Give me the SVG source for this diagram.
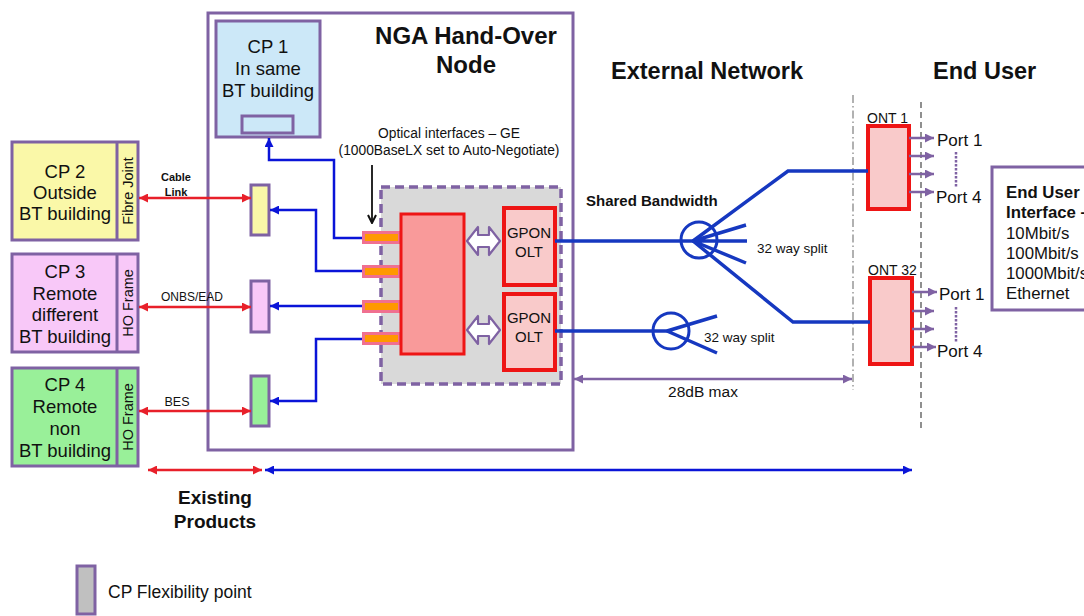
<svg xmlns="http://www.w3.org/2000/svg" width="1084" height="616" viewBox="0 0 1084 616">
<style>
text{font-family:"Liberation Sans",Arial,sans-serif;fill:#111}
.pbox{stroke:#7F62A3;stroke-width:3}
.cpt{font-size:18.5px;text-anchor:middle}
.vt{font-size:14.5px;text-anchor:middle}
.small{font-size:12px;text-anchor:middle}
.red{stroke:#E8202A;stroke-width:2.5;fill:none}
.blue{stroke:#0A14D8;stroke-width:2.5;fill:none}
.fibre{stroke:#1638C0;stroke-width:3.5;fill:none}
.purp{stroke:#7F62A3;stroke-width:2.5;fill:none}
.olt{fill:#F9CACA;stroke:#EE1515;stroke-width:4}
.port{fill:#F07090}
.porti{fill:#FF9900}
.h1{font-size:24px;font-weight:bold;text-anchor:middle}
.h2{font-size:23.5px;font-weight:bold}
.gt{font-size:15px;text-anchor:middle}
.pt{font-size:17px}
.eu{font-size:16.8px}
</style>
<defs>
<marker id="aR" viewBox="0 0 10 10" refX="10" refY="5" markerWidth="10" markerHeight="9" markerUnits="userSpaceOnUse" orient="auto-start-reverse"><path d="M0,0 L10,5 L0,10 z" fill="#E8202A"/></marker>
<marker id="aB" viewBox="0 0 10 10" refX="10" refY="5" markerWidth="9" markerHeight="9" markerUnits="userSpaceOnUse" orient="auto-start-reverse"><path d="M0,0 L10,5 L0,10 z" fill="#0A14D8"/></marker>
<marker id="aP" viewBox="0 0 10 10" refX="10" refY="5" markerWidth="9" markerHeight="9" markerUnits="userSpaceOnUse" orient="auto-start-reverse"><path d="M0,0 L10,5 L0,10 z" fill="#7F62A3"/></marker>
<marker id="aK" viewBox="0 0 10 10" refX="9" refY="5" markerWidth="10" markerHeight="10" markerUnits="userSpaceOnUse" orient="auto"><path d="M1,1 L9,5 L1,9" fill="none" stroke="#111" stroke-width="2"/></marker>
</defs>
<rect width="1084" height="616" fill="#fff"/>

<g id="nga-node">
<rect x="208" y="13" width="365" height="437" fill="#fff" class="pbox"/>
<text class="h1" x="466" y="44">NGA Hand-Over</text>
<text class="h1" x="466" y="73">Node</text>
</g>

<g id="cp1">
<rect x="216" y="21" width="104" height="116" fill="#CCE8F8" class="pbox"/>
<rect x="242" y="116" width="51" height="17" fill="#CCE8F8" class="pbox"/>
<text class="cpt" x="268" y="53">CP 1</text>
<text class="cpt" x="268" y="75">In same</text>
<text class="cpt" x="268" y="97">BT building</text>
</g>

<g id="cp2">
<rect x="12" y="142" width="126" height="98" fill="#FAF8A8" class="pbox"/>
<line x1="117" y1="142" x2="117" y2="240" class="pbox"/>
<text class="cpt" x="65" y="178">CP 2</text>
<text class="cpt" x="65" y="199">Outside</text>
<text class="cpt" x="65" y="220">BT building</text>
<text class="vt" transform="translate(133,191) rotate(-90)">Fibre Joint</text>
</g>

<g id="cp3">
<rect x="12" y="254" width="126" height="98" fill="#F8C8F8" class="pbox"/>
<line x1="117" y1="254" x2="117" y2="352" class="pbox"/>
<text class="cpt" x="65" y="278">CP 3</text>
<text class="cpt" x="65" y="300">Remote</text>
<text class="cpt" x="65" y="321">different</text>
<text class="cpt" x="65" y="343">BT building</text>
<text class="vt" transform="translate(133,303) rotate(-90)">HO Frame</text>
</g>

<g id="cp4">
<rect x="12" y="368" width="126" height="98" fill="#99F099" class="pbox"/>
<line x1="117" y1="368" x2="117" y2="466" class="pbox"/>
<text class="cpt" x="65" y="391">CP 4</text>
<text class="cpt" x="65" y="413">Remote</text>
<text class="cpt" x="65" y="435">non</text>
<text class="cpt" x="65" y="457">BT building</text>
<text class="vt" transform="translate(133,417) rotate(-90)">HO Frame</text>
</g>

<g id="fp-yellow"><rect x="251" y="185" width="18" height="50" fill="#FAF8A8" class="pbox"/></g>
<g id="fp-pink"><rect x="251" y="281" width="18" height="51" fill="#F8C8F8" class="pbox"/></g>
<g id="fp-green"><rect x="251" y="376" width="18" height="50" fill="#99F099" class="pbox"/></g>

<g id="switch">
<rect x="381" y="187" width="180" height="197" fill="#D9D9D9" stroke="#7F62A3" stroke-width="3.5" stroke-dasharray="9,5"/>
<rect x="362" y="231" width="40" height="13" class="port"/><rect x="365" y="234" width="33" height="7" class="porti"/>
<rect x="362" y="265" width="40" height="13" class="port"/><rect x="365" y="268" width="33" height="7" class="porti"/>
<rect x="362" y="300" width="40" height="13" class="port"/><rect x="365" y="303" width="33" height="7" class="porti"/>
<rect x="362" y="332" width="40" height="13" class="port"/><rect x="365" y="335" width="33" height="7" class="porti"/>
<rect x="401" y="214" width="63" height="140" fill="#F99A9A" stroke="#EE1515" stroke-width="3"/>
<path d="M467,241 L478,227 L478,235 L489,235 L489,227 L500,241 L489,255 L489,247 L478,247 L478,255 Z" fill="#fff" stroke="#7F62A3" stroke-width="2.2" stroke-linejoin="round"/>
<path d="M467,330 L478,316 L478,324 L489,324 L489,316 L500,330 L489,344 L489,336 L478,336 L478,344 Z" fill="#fff" stroke="#7F62A3" stroke-width="2.2" stroke-linejoin="round"/>
</g>

<g id="olt1">
<rect x="504" y="208" width="51" height="77" class="olt"/>
<text class="gt" x="529" y="238">GPON</text>
<text class="gt" x="529" y="257">OLT</text>
</g>
<g id="olt2">
<rect x="504" y="294" width="51" height="76" class="olt"/>
<text class="gt" x="529" y="323">GPON</text>
<text class="gt" x="529" y="342">OLT</text>
</g>

<g id="labels">
<text x="449" y="138" style="font-size:13.8px;text-anchor:middle">Optical interfaces – GE</text>
<text x="449" y="155" style="font-size:13.8px;text-anchor:middle">(1000BaseLX set to Auto-Negotiate)</text>
<text class="h2" x="611" y="79">External Network</text>
<text class="h2" x="933" y="79">End User</text>
<text x="586" y="206" style="font-size:15px;font-weight:bold">Shared Bandwidth</text>
<text x="757" y="253" style="font-size:13.5px">32 way split</text>
<text x="704" y="342" style="font-size:13.5px">32 way split</text>
<text x="703" y="397" style="font-size:15.5px;text-anchor:middle">28dB max</text>
<text class="small" x="176" y="181" style="font-size:11px;font-weight:bold">Cable</text>
<text class="small" x="176" y="196" style="font-size:11px;font-weight:bold">Link</text>
<text class="small" x="192" y="301">ONBS/EAD</text>
<text class="small" x="177" y="406" style="font-size:12.5px">BES</text>
<text x="215" y="504" style="font-size:19px;font-weight:bold;text-anchor:middle">Existing</text>
<text x="215" y="528" style="font-size:19px;font-weight:bold;text-anchor:middle">Products</text>
</g>

<g id="splitter1"><circle cx="699" cy="240" r="18" fill="none" stroke="#1638C0" stroke-width="3"/></g>
<g id="splitter2"><circle cx="671" cy="331" r="18" fill="none" stroke="#1638C0" stroke-width="3"/></g>

<g id="ont1">
<rect x="868" y="126" width="41" height="83" class="olt"/>
<text x="867" y="123" style="font-size:14px">ONT 1</text>
</g>
<g id="ont32">
<rect x="870" y="278" width="42" height="86" class="olt"/>
<text x="868" y="275" style="font-size:14px">ONT 32</text>
</g>

<g id="ports">
<text class="pt" x="937" y="146">Port 1</text>
<text class="pt" x="936" y="203">Port 4</text>
<text class="pt" x="939" y="300">Port 1</text>
<text class="pt" x="937" y="357">Port 4</text>
<line x1="956" y1="152" x2="956" y2="187" stroke="#7F62A3" stroke-width="2.5" stroke-dasharray="2.5,1.5"/>
<line x1="956" y1="307" x2="956" y2="342" stroke="#7F62A3" stroke-width="2.5" stroke-dasharray="2.5,1.5"/>
</g>

<g id="end-user-interface">
<rect x="992" y="167" width="110" height="143" fill="#fff" class="pbox"/>
<text class="eu" x="1006" y="198" style="font-weight:bold">End User</text>
<text class="eu" x="1006" y="218" style="font-weight:bold">Interface –</text>
<text class="eu" x="1006" y="239">10Mbit/s</text>
<text class="eu" x="1006" y="259">100Mbit/s</text>
<text class="eu" x="1006" y="279">1000Mbit/s</text>
<text class="eu" x="1006" y="299">Ethernet</text>
</g>

<g id="legend">
<rect x="77" y="566" width="18" height="48" fill="#C0C0C0" class="pbox"/>
<text x="108" y="598" style="font-size:17.5px">CP Flexibility point</text>
</g>

<g id="boundaries">
<line x1="853" y1="95" x2="853" y2="390" stroke="#888" stroke-width="1.3" stroke-dasharray="8,3,1.5,3"/>
<line x1="921" y1="102" x2="921" y2="432" stroke="#555" stroke-width="1.3" stroke-dasharray="6,4"/>
</g>

<g id="connectors">
<line x1="139" y1="198" x2="251" y2="198" class="red" marker-start="url(#aR)" marker-end="url(#aR)"/>
<line x1="139" y1="307" x2="251" y2="307" class="red" marker-start="url(#aR)" marker-end="url(#aR)"/>
<line x1="139" y1="411" x2="251" y2="411" class="red" marker-start="url(#aR)" marker-end="url(#aR)"/>
<line x1="148" y1="470" x2="262" y2="470" class="red" marker-start="url(#aR)" marker-end="url(#aR)"/>
<line x1="265" y1="470" x2="912" y2="470" class="blue" marker-start="url(#aB)" marker-end="url(#aB)"/>
<path d="M362,238 H334 V160 H269 V138" class="blue" marker-end="url(#aB)"/>
<path d="M362,271 H316 V210 H270" class="blue" marker-end="url(#aB)"/>
<path d="M362,306 H270" class="blue" marker-end="url(#aB)"/>
<path d="M362,339 H316 V401 H270" class="blue" marker-end="url(#aB)"/>
<line x1="372" y1="165" x2="372" y2="223" stroke="#111" stroke-width="1.8" marker-end="url(#aK)"/>
<path d="M555,241 H697" class="fibre"/>
<path d="M693,241 L788,171 H868" class="fibre"/>
<path d="M693,241 L746,225 M693,241 L747,241 M693,241 L746,263" class="fibre"/>
<path d="M693,241 L793,322 H870" class="fibre"/>
<path d="M555,331 H668" class="fibre"/>
<path d="M667,331 L717,316 M667,331 L717,353" class="fibre"/>
<line x1="574" y1="379" x2="852" y2="379" class="purp" marker-start="url(#aP)" marker-end="url(#aP)"/>
<line x1="909" y1="138" x2="934" y2="138" class="purp" marker-end="url(#aP)"/>
<line x1="909" y1="156" x2="934" y2="156" class="purp" marker-end="url(#aP)"/>
<line x1="909" y1="174" x2="934" y2="174" class="purp" marker-end="url(#aP)"/>
<line x1="909" y1="192" x2="934" y2="192" class="purp" marker-end="url(#aP)"/>
<line x1="912" y1="292" x2="937" y2="292" class="purp" marker-end="url(#aP)"/>
<line x1="912" y1="311" x2="934" y2="311" class="purp" marker-end="url(#aP)"/>
<line x1="912" y1="329" x2="934" y2="329" class="purp" marker-end="url(#aP)"/>
<line x1="912" y1="347" x2="936" y2="347" class="purp" marker-end="url(#aP)"/>
</g>
</svg>
